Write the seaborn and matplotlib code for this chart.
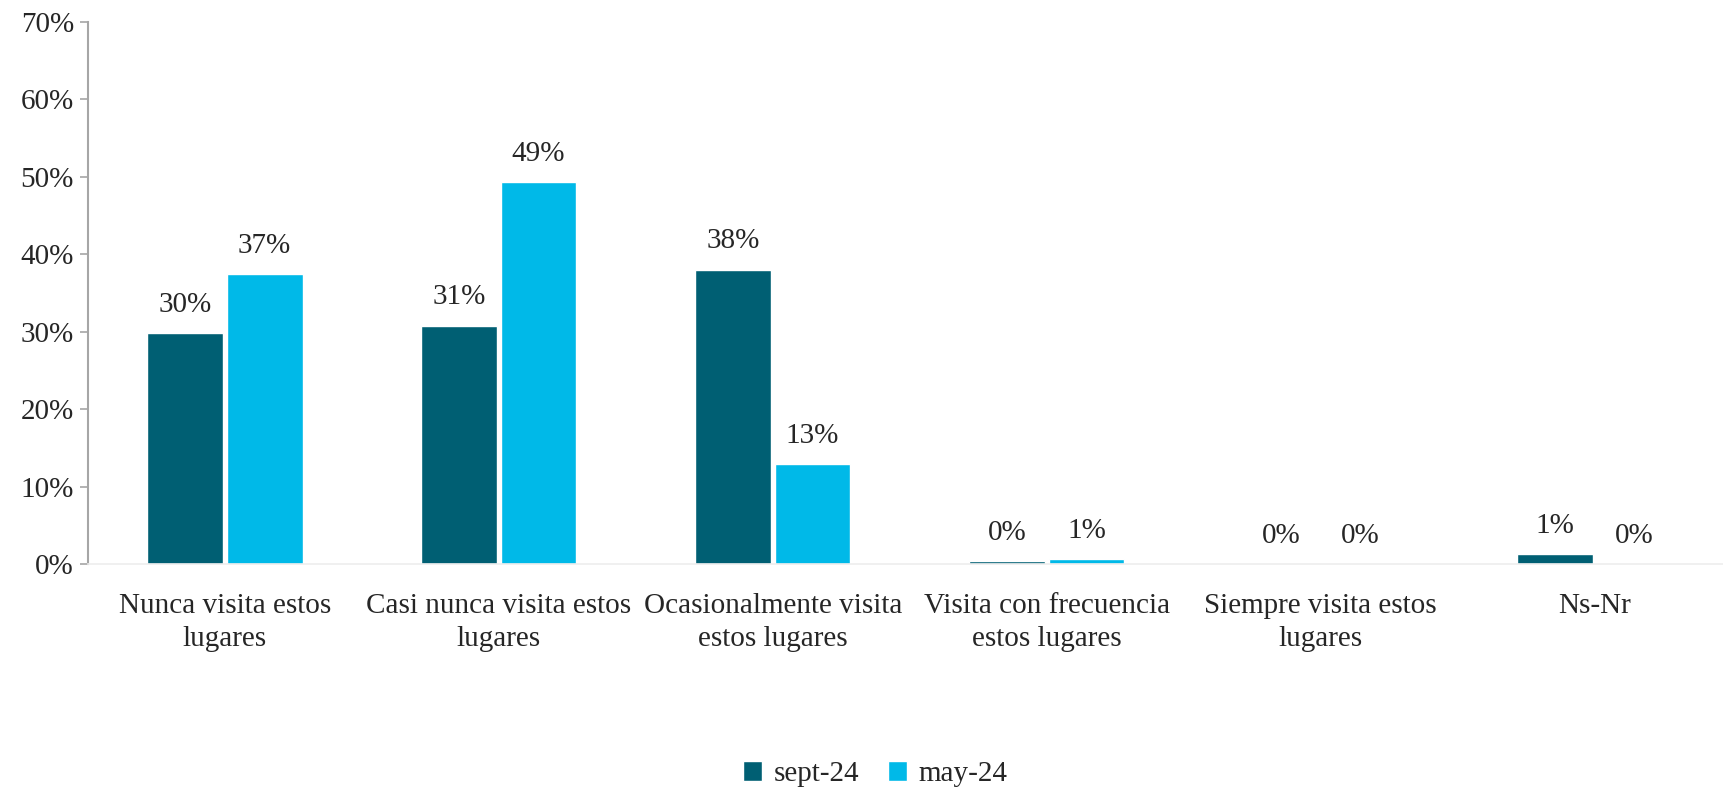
import pandas as pd
import matplotlib.pyplot as plt
import seaborn as sns
from matplotlib.ticker import PercentFormatter

# data
categorias = ['Nunca visita estos\nlugares', 'Casi nunca visita estos\nlugares',
              'Ocasionalmente visita\nestos lugares', 'Visita con frecuencia\nestos lugares',
              'Siempre visita estos\nlugares', 'Ns-Nr']
sept24 = [29.8, 30.8, 38.0, 0.4, 0.0, 1.3]
may24 = [37.4, 49.3, 12.9, 0.6, 0.0, 0.0]
series = ['sept-24', 'may-24']
colores = ['#005F73', '#00B9E8']

df = pd.DataFrame({'categoria': categorias * 2,
                   'valor': sept24 + may24,
                   'serie': [series[0]] * 6 + [series[1]] * 6})

sns.set_style('white')
plt.rcParams['font.family'] = ['Liberation Serif', 'DejaVu Serif']
fs = 21

fig = plt.figure(figsize=(17.23, 7.87), dpi=100)
ax = fig.add_axes([0.051, 0.2834, 0.954, 0.6886])

sns.barplot(data=df, x='categoria', y='valor', hue='serie', palette=colores,
            width=0.58, gap=0.045, ax=ax, legend=True, saturation=1)

# value labels
for cont in ax.containers:
    labels = ['%d%%' % round(v) for v in cont.datavalues]
    ax.bar_label(cont, labels=labels, padding=11, fontsize=fs)

ax.set_ylim(0, 70)
ax.set_xlim(-0.5, 5.5)
ax.set_yticks(range(0, 71, 10))
ax.yaxis.set_major_formatter(PercentFormatter(decimals=0))
ax.set_xlabel('')
ax.set_ylabel('')
ax.tick_params(axis='y', labelsize=fs, length=6, width=1.2, color='#A6A6A6', left=True, pad=4)
ax.tick_params(axis='x', labelsize=fs, length=0, pad=21)
for lbl in ax.get_xticklabels():
    lbl.set_linespacing(1.32)

for s in ['top', 'right']:
    ax.spines[s].set_visible(False)
ax.spines['left'].set_color('#A6A6A6')
ax.spines['left'].set_linewidth(1.5)
ax.spines['bottom'].set_color('#EDEDED')
ax.spines['bottom'].set_linewidth(1.2)

handles, labs = ax.get_legend_handles_labels()
ax.legend_.remove()
fig.legend(handles, labs, loc='center', bbox_to_anchor=(0.508, 0.016), ncol=2,
           frameon=False, fontsize=fs, handlelength=0.65, handleheight=0.65,
           handletextpad=0.4, columnspacing=1.0)

fig.savefig('out.png', dpi=100)
